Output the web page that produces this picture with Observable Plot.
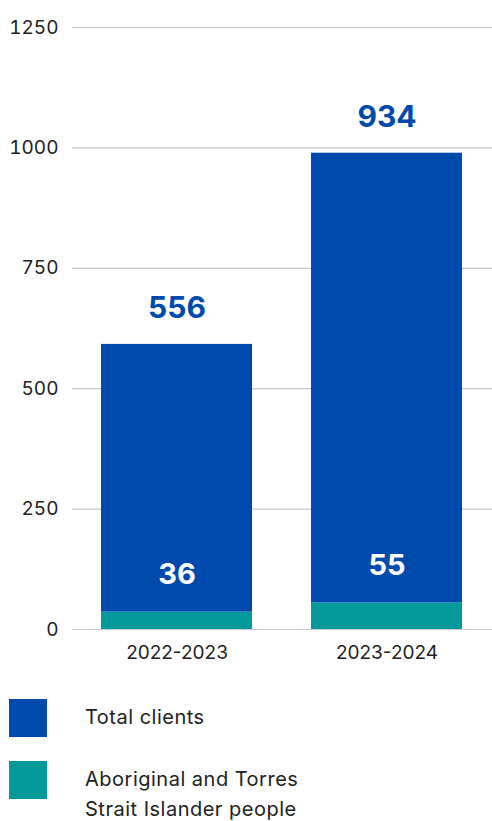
<!DOCTYPE html>
<html>
<head>
<meta charset="utf-8">
<script src="https://cdn.jsdelivr.net/npm/d3@7"></script>
<script src="https://cdn.jsdelivr.net/npm/@observablehq/plot@0.6"></script>
<style>
  html, body { margin: 0; padding: 0; background: #fff; }
  body { width: 492px; font-family: Inter, "Open Sans", sans-serif; color: #222; }
  .legend { margin-top: 19px; }
  .item { position: relative; height: 62px; }
  .swatch { position: absolute; left: 9px; top: 0; width: 38px; height: 38px; }
  .label { position: absolute; left: 85px; top: 3px; font-size: 20px; line-height: 30px; letter-spacing: 0.5px; white-space: nowrap; }
</style>
</head>
<body>
<div id="chart"></div>
<div class="legend" id="legend"></div>
<script>
const years = ["2022-2023", "2023-2024"];
const totalClients = [556, 934];
const aboriginal = [36, 55];
const yTicks = [0, 250, 500, 750, 1000, 1250];
const seriesNames = ["Aboriginal and Torres Strait Islander people", "Total clients"];
const seriesColors = ["#049a9c", "#004aad"];

const rows = years.flatMap((yr, i) => [
  {year: yr, series: seriesNames[0], value: aboriginal[i]},
  {year: yr, series: seriesNames[1], value: totalClients[i]}
]);
const topLabels = years.map((yr, i) => ({year: yr, y: aboriginal[i] + totalClients[i], text: String(totalClients[i])}));
const innerLabels = years.map((yr, i) => ({year: yr, y: aboriginal[i], text: String(aboriginal[i])}));

const chart = Plot.plot({
  width: 492,
  height: 680,
  marginTop: 27,
  marginBottom: 51,
  marginLeft: 72,
  marginRight: 0,
  style: {fontFamily: "Inter, 'Open Sans', sans-serif", color: "#222", background: "#fff"},
  x: {domain: years, paddingInner: 0.28, paddingOuter: 0.14, label: null},
  y: {domain: [0, 1250], label: null},
  color: {domain: seriesNames, range: seriesColors},
  marks: [
    Plot.ruleY(yTicks, {stroke: "#c8c8c8", strokeWidth: 1.2}),
    Plot.barY(rows, Plot.stackY({x: "year", y: "value", fill: "series"})),
    Plot.text(topLabels, {x: "year", y: "y", text: "text", dy: -36, fill: "#004aad", fontSize: 30, fontWeight: 700, lineAnchor: "middle"}),
    Plot.text(innerLabels, {x: "year", y: "y", text: "text", dy: -37, fill: "#fff", fontSize: 29, fontWeight: 700, lineAnchor: "middle"}),
    Plot.axisY({ticks: yTicks, tickFormat: d => String(d), tickSize: 0, tickPadding: 14, fontSize: 19, label: null}),
    Plot.axisX({tickSize: 0, tickPadding: 16, fontSize: 19, label: null})
  ]
});
document.getElementById("chart").appendChild(chart);

const legend = document.getElementById("legend");
[[seriesColors[1], "Total clients"], [seriesColors[0], "Aboriginal and Torres<br>Strait Islander people"]].forEach(([col, html]) => {
  const item = document.createElement("div");
  item.className = "item";
  item.innerHTML = `<div class="swatch" style="background:${col}"></div><div class="label">${html}</div>`;
  legend.appendChild(item);
});
</script>
</body>
</html>
